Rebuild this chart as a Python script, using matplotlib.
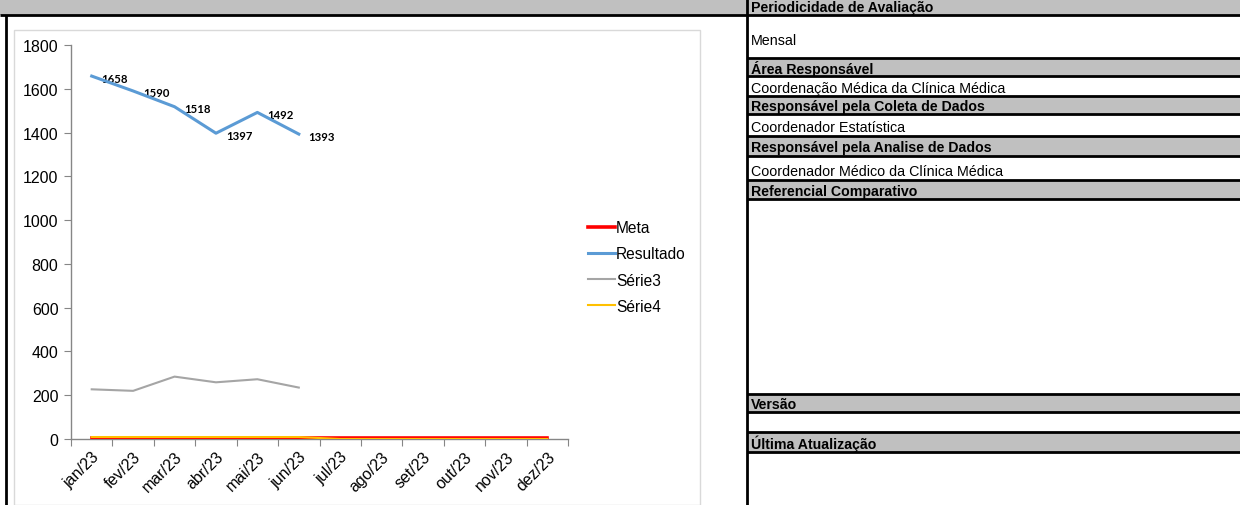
import matplotlib
matplotlib.use("Agg")
import matplotlib.pyplot as plt
from matplotlib.patches import Rectangle
import numpy as np

plt.rcParams['font.family'] = ['Liberation Sans', 'DejaVu Sans']

months = ["jan/23", "fev/23", "mar/23", "abr/23", "mai/23", "jun/23",
          "jul/23", "ago/23", "set/23", "out/23", "nov/23", "dez/23"]
meta = [5, 5, 5, 5, 5, 5, 5, 5, 5, 5, 5, 5]
resultado = [1658, 1590, 1518, 1397, 1492, 1393]
serie3 = [227, 220, 285, 259, 273, 235]
serie4 = [9, 9, 9, 9, 9, 9, 0, 0, 0, 0, 0, 0]
yticks = [0, 200, 400, 600, 800, 1000, 1200, 1400, 1600, 1800]

headers = ["Periodicidade de Avaliação", "Área Responsável", "Responsável pela Coleta de Dados",
           "Responsável pela Analise de Dados", "Referencial Comparativo", "Versão", "Última Atualização"]
values = ["Mensal", "Coordenação Médica da Clínica Médica", "Coordenador Estatística",
          "Coordenador Médico da Clínica Médica"]

W, H = 1240, 506
fig = plt.figure(figsize=(W / 100, H / 100), dpi=100)

# background sheet layer in pixel coordinates
bg = fig.add_axes([0, 0, 1, 1], zorder=0)
bg.set_xlim(0, W)
bg.set_ylim(H, 0)
bg.axis('off')

gray = '#c0c0c0'
bg.add_patch(Rectangle((0, 0), 747, 16, facecolor=gray, edgecolor='none'))
band_spans = [(0, 16), (59, 77), (97, 115), (137, 157), (181, 200), (395, 413), (433, 453)]
for (y0, y1) in band_spans:
    bg.add_patch(Rectangle((748, y0), W - 748, y1 - y0, facecolor=gray, edgecolor='none'))
for y in [16, 59, 77, 97, 115, 137, 157, 181, 200, 395, 413, 433, 453]:
    x0 = 0 if y == 16 else 747
    bg.plot([x0, W], [y, y], color='black', lw=2.0, solid_capstyle='butt')
bg.plot([6, 6], [16, H], color='black', lw=2.0, solid_capstyle='butt')
bg.plot([747, 747], [0, H], color='black', lw=2.0, solid_capstyle='butt')

header_y = [8, 69, 107, 148, 192, 405, 444]
for t, y in zip(headers, header_y):
    bg.text(751, y, t, fontsize=10.2, fontweight='bold', va='center', ha='left')
value_y = [41, 89, 128, 172]
for t, y in zip(values, value_y):
    bg.text(751, y, t, fontsize=10.3, va='center', ha='left')

# chart box
bg.add_patch(Rectangle((14, 31), 686, 475, facecolor='white', edgecolor='#d9d9d9', lw=1.0))

# chart axes
x0p, x1p, y0p, y1p = 71, 568, 440, 46
ax = fig.add_axes([x0p / W, (H - y0p) / H, (x1p - x0p) / W, (y0p - y1p) / H], zorder=1)
ax.set_facecolor('none')
n = len(months)
x = np.arange(n)
l1, = ax.plot(x[:len(meta)], meta, color='#ff0000', lw=2.6, label='Meta', zorder=3)
l2, = ax.plot(x[:len(resultado)], resultado, color='#5b9bd5', lw=2.2, label='Resultado', zorder=4)
l3, = ax.plot(x[:len(serie3)], serie3, color='#a5a5a5', lw=1.5, label='Série3', zorder=3)
l4, = ax.plot(x[:len(serie4)], serie4, color='#ffc000', lw=1.5, label='Série4', zorder=3)

for xi, v in zip(x, resultado):
    ax.annotate(str(v), (xi, v), xytext=(23, -2), textcoords='offset pixels',
                ha='center', va='center', fontsize=8.2, fontweight='bold',
                family=['Lato', 'DejaVu Sans'])

ax.set_xlim(-0.5, n - 0.5)
ax.set_ylim(0, 1800)
ax.set_yticks(yticks)
ax.set_yticklabels([str(v) for v in yticks], fontsize=11.5)
ax.set_xticks(np.arange(-0.5, n, 1.0))
ax.set_xticklabels([])
ax.set_xticks(x, minor=True)
ax.set_xticklabels(months, minor=True, rotation=45, ha='right', va='top',
                   rotation_mode='anchor', fontsize=11.5)
ax.tick_params(axis='x', which='minor', length=0, pad=7)
ax.tick_params(axis='x', which='major', length=5, color='#868686', direction='out')
ax.tick_params(axis='y', length=5, color='#868686', direction='out', pad=4)
for s in ['top', 'right']:
    ax.spines[s].set_visible(False)
for s in ['left', 'bottom']:
    ax.spines[s].set_color('#868686')
    ax.spines[s].set_linewidth(1.0)

leg = ax.legend(handles=[l1, l2, l3, l4], loc='center left',
                bbox_to_anchor=(588 / W, (H - 268) / H), bbox_transform=fig.transFigure,
                frameon=False, fontsize=11.2, handlelength=1.75, handletextpad=0.05,
                labelspacing=0.72, borderpad=0, borderaxespad=0)

fig.savefig('out.png', dpi=100)
